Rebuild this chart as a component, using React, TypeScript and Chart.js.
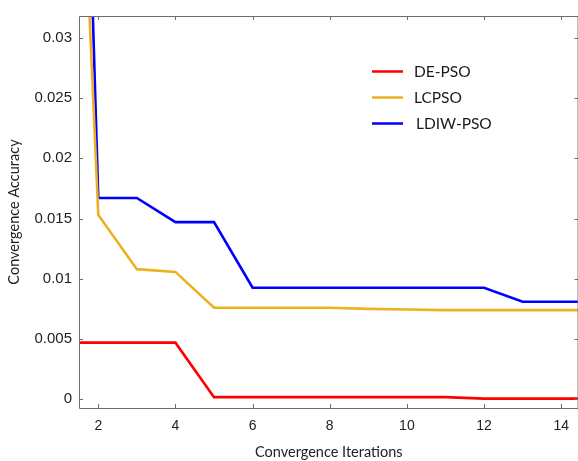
import React, { useEffect, useRef } from "react";
import { Chart, registerables } from "chart.js";

Chart.register(...registerables);

const iterations = [1, 2, 3, 4, 5, 6, 7, 8, 9, 10, 11, 12, 13, 14, 15];
const dePso = [0.0047, 0.0047, 0.0047, 0.0047, 0.00018, 0.00018, 0.00018, 0.00018, 0.00018, 0.00018, 0.00018, 0.00006, 0.00006, 0.00006, 0.00006];
const lcPso = [0.088, 0.0153, 0.0108, 0.01057, 0.0076, 0.0076, 0.0076, 0.0076, 0.0075, 0.00745, 0.0074, 0.0074, 0.0074, 0.0074, 0.0074];
const ldiwPso = [0.124, 0.0167, 0.0167, 0.0147, 0.0147, 0.00926, 0.00926, 0.00926, 0.00926, 0.00926, 0.00926, 0.00926, 0.0081, 0.0081, 0.0081];
const seriesNames = ["DE-PSO", "LCPSO", "LDIW-PSO"];
const seriesColors = ["#ff0000", "#edb120", "#0000ff"];
const xTicks = [2, 4, 6, 8, 10, 12, 14];
const yTicks = [0, 0.005, 0.01, 0.015, 0.02, 0.025, 0.03];
const xTitle = "Convergence Iterations";
const yTitle = "Convergence Accuracy";

const AXIS_COLOR = "#6e6e6e";

const framePlugin = {
  id: "frame",
  afterDatasetsDraw(chart: any) {
    const { ctx, chartArea, scales } = chart;
    const { left, right, top, bottom } = chartArea;
    ctx.save();
    ctx.strokeStyle = AXIS_COLOR;
    ctx.lineWidth = 1;
    ctx.beginPath();
    ctx.moveTo(left + 0.5, top + 0.5);
    ctx.lineTo(right - 0.5, top + 0.5);
    ctx.lineTo(right - 0.5, bottom + 0.5);
    ctx.lineTo(left + 0.5, bottom + 0.5);
    ctx.closePath();
    ctx.stroke();
    const tl = 4;
    ctx.beginPath();
    for (const t of scales.x.ticks) {
      const px = Math.round(scales.x.getPixelForValue(t.value)) + 0.5;
      ctx.moveTo(px, bottom);
      ctx.lineTo(px, bottom - tl);
      ctx.moveTo(px, top);
      ctx.lineTo(px, top + tl);
    }
    for (const t of scales.y.ticks) {
      const py = Math.round(scales.y.getPixelForValue(t.value)) + 0.5;
      ctx.moveTo(left, py);
      ctx.lineTo(left + tl, py);
      ctx.moveTo(right, py);
      ctx.lineTo(right - tl, py);
    }
    ctx.stroke();
    ctx.restore();
  },
};

const legendPlugin = {
  id: "customLegend",
  afterDraw(chart: any) {
    const { ctx } = chart;
    const x0 = 372;
    const y0 = 71.5;
    const gap = 26;
    ctx.save();
    ctx.font = "15.5px Lato, 'Liberation Sans', sans-serif";
    ctx.textBaseline = "middle";
    ctx.textAlign = "left";
    chart.data.datasets.forEach((ds: any, i: number) => {
      const y = y0 + i * gap;
      ctx.strokeStyle = ds.borderColor;
      ctx.lineWidth = 2.5;
      ctx.beginPath();
      ctx.moveTo(x0, y);
      ctx.lineTo(x0 + 31, y);
      ctx.stroke();
      ctx.fillStyle = "#1a1a1a";
      ctx.fillText(ds.label, x0 + 42 + (i === 2 ? 2 : 0), y);
    });
    ctx.restore();
  },
};

export default function App() {
  const ref = useRef<HTMLCanvasElement>(null);
  useEffect(() => {
    if (!ref.current) return;
    const series = [dePso, lcPso, ldiwPso];
    const chart = new Chart(ref.current, {
      type: "line",
      data: {
        datasets: series.map((vals, i) => ({
          label: seriesNames[i],
          data: iterations.map((x, j) => ({ x, y: vals[j] })),
          borderColor: seriesColors[i],
          backgroundColor: seriesColors[i],
          borderWidth: 2.6,
          pointRadius: 0,
          tension: 0,
          fill: false,
        })),
      },
      options: {
        animation: false,
        responsive: false,
        maintainAspectRatio: false,
        layout: { padding: { top: 13, right: 0, left: 0, bottom: 0 } },
        plugins: { legend: { display: false }, tooltip: { enabled: false } },
        scales: {
          x: {
            type: "linear",
            min: 1.5,
            max: 14.45,
            afterBuildTicks: (s: any) => {
              s.ticks = xTicks.map((v) => ({ value: v }));
            },
            afterFit: (s: any) => {
              s.height = 53;
            },
            grid: { display: false, drawTicks: false },
            border: { display: false },
            ticks: {
              color: "#222",
              padding: 10,
              font: { family: "'Liberation Sans', Arial, sans-serif", size: 14 },
              callback: (v: any) => String(v),
            },
            title: {
              display: true,
              text: xTitle,
              color: "#222",
              font: { family: "Lato, 'Liberation Sans', sans-serif", size: 14.5 },
              padding: { top: 4, bottom: 0 },
            },
          },
          y: {
            type: "linear",
            min: -0.00072,
            max: 0.0318,
            afterBuildTicks: (s: any) => {
              s.ticks = yTicks.map((v) => ({ value: v }));
            },
            afterFit: (s: any) => {
              s.width = 79;
            },
            grid: { display: false, drawTicks: false },
            border: { display: false },
            ticks: {
              color: "#222",
              padding: 7,
              font: { family: "'Liberation Sans', Arial, sans-serif", size: 15 },
              callback: (v: any) => String(v),
            },
            title: {
              display: true,
              text: yTitle,
              color: "#222",
              font: { family: "Lato, 'Liberation Sans', sans-serif", size: 14.5 },
              padding: { top: 6, bottom: 0 },
            },
          },
        },
      },
      plugins: [framePlugin, legendPlugin],
    });
    return () => chart.destroy();
  }, []);
  return (
    <div style={{ position: "fixed", left: 0, top: 0, width: 578, height: 461, background: "#fff" }}>
      <canvas ref={ref} width={579} height={461} style={{ display: "block" }} />
    </div>
  );
}
